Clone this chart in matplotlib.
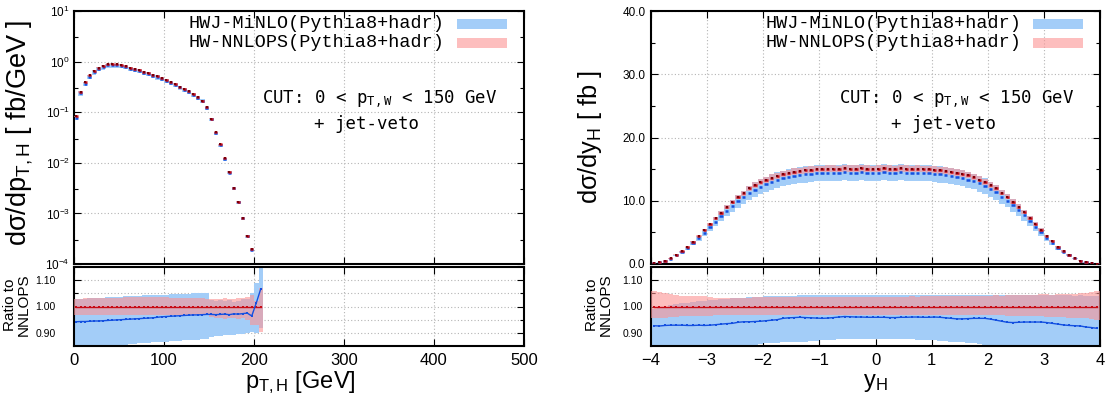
import numpy as np
import matplotlib
matplotlib.use('Agg')
import matplotlib.pyplot as plt
from matplotlib.patches import Rectangle
from matplotlib.ticker import MultipleLocator, FormatStrFormatter, FixedLocator, LogLocator, NullFormatter

plt.rcParams['font.family'] = ['Liberation Sans', 'DejaVu Sans']
plt.rcParams['mathtext.fontset'] = 'custom'
plt.rcParams['mathtext.rm'] = 'Liberation Sans'
plt.rcParams['mathtext.it'] = 'Liberation Sans:italic'
plt.rcParams['mathtext.bf'] = 'Liberation Sans:bold'
plt.rcParams['mathtext.sf'] = 'Liberation Sans'
plt.rcParams['mathtext.tt'] = 'DejaVu Sans Mono'

# ---------------- DATA ----------------
legend_labels = ["HWJ-MiNLO(Pythia8+hadr)", "HW-NNLOPS(Pythia8+hadr)"]
cut_text = [r"CUT: 0 < p$_{\mathtt{T,W}}$ < 150 GeV", "+ jet-veto"]

# pT_H histogram: 5 GeV bins from 0 to 210 GeV
pt_edges = np.arange(0, 211, 5)
pt_nnlops = [0.083, 0.25, 0.39, 0.535, 0.66, 0.76, 0.82, 0.885, 0.90, 0.885,
             0.86, 0.82, 0.76, 0.73, 0.68, 0.63, 0.60, 0.55, 0.51, 0.47,
             0.43, 0.39, 0.36, 0.32, 0.29, 0.26, 0.23, 0.20, 0.17, 0.124,
             0.075, 0.040, 0.023, 0.0122, 0.0066, 0.0032, 0.0017, 0.00082, 0.00036, 0.00020,
             0.00009, 0.00004]
pt_ratio_minlo = [0.942, 0.943, 0.943, 0.944, 0.945, 0.945, 0.946, 0.947, 0.948, 0.949,
                  0.950, 0.951, 0.952, 0.953, 0.954, 0.955, 0.956, 0.957, 0.959, 0.961,
                  0.962, 0.963, 0.964, 0.965, 0.966, 0.967, 0.968, 0.968, 0.969, 0.970,
                  0.970, 0.969, 0.970, 0.971, 0.969, 0.972, 0.971, 0.973, 0.975, 0.964,
                  1.013, 1.067]
pt_nnlops_up = [1.030, 1.030, 1.031, 1.031, 1.032, 1.032, 1.033, 1.033, 1.034, 1.034,
                1.034, 1.035, 1.035, 1.035, 1.036, 1.036, 1.036, 1.036, 1.035, 1.035,
                1.035, 1.034, 1.034, 1.033, 1.033, 1.032, 1.032, 1.031, 1.031, 1.030,
                1.030, 1.029, 1.030, 1.032, 1.030, 1.028, 1.031, 1.033, 1.036, 1.045,
                1.020, 1.070]
pt_nnlops_lo = [0.968, 0.968, 0.968, 0.967, 0.967, 0.967, 0.966, 0.966, 0.966, 0.966,
                0.966, 0.966, 0.966, 0.966, 0.966, 0.966, 0.966, 0.966, 0.966, 0.966,
                0.966, 0.966, 0.966, 0.966, 0.966, 0.966, 0.966, 0.966, 0.966, 0.966,
                0.960, 0.958, 0.955, 0.953, 0.957, 0.955, 0.953, 0.958, 0.950, 0.930,
                0.930, 0.905]
pt_minlo_up = [1.028, 1.028, 1.030, 1.031, 1.032, 1.033, 1.034, 1.035, 1.036, 1.036,
               1.037, 1.038, 1.039, 1.040, 1.041, 1.042, 1.043, 1.043, 1.044, 1.045,
               1.045, 1.046, 1.047, 1.047, 1.048, 1.049, 1.050, 1.050, 1.051, 1.052,
               1.025, 1.022, 1.026, 1.020, 1.024, 1.018, 1.022, 1.028, 1.030, 1.050,
               1.090, 1.170]
pt_minlo_lo = [0.830, 0.832, 0.835, 0.838, 0.840, 0.842, 0.845, 0.847, 0.849, 0.851,
               0.853, 0.855, 0.857, 0.859, 0.860, 0.862, 0.863, 0.864, 0.865, 0.866,
               0.867, 0.868, 0.869, 0.870, 0.871, 0.872, 0.873, 0.874, 0.875, 0.876,
               0.885, 0.887, 0.889, 0.890, 0.892, 0.893, 0.895, 0.897, 0.900, 0.905,
               0.900, 0.920]

# y_H histogram: 0.1 bins from -4 to 4
y_edges = np.linspace(-4.0, 4.0, 81)
y_nnlops = [0.10, 0.26, 0.50, 0.90, 1.45, 2.00, 2.70, 3.55, 4.40, 5.35,
            6.25, 7.20, 8.10, 9.00, 9.80, 10.60, 11.20, 11.95, 12.45, 12.90,
            13.30, 13.65, 13.95, 14.20, 14.40, 14.60, 14.70, 14.80, 14.90, 15.00,
            15.00, 15.05, 15.05, 15.00, 15.10, 15.05, 15.05, 15.10, 15.05, 15.00,
            15.05, 15.10, 15.05, 15.00, 15.10, 15.05, 15.00, 15.05, 15.00, 14.95,
            14.90, 14.80, 14.75, 14.60, 14.45, 14.25, 14.00, 13.70, 13.35, 12.95,
            12.50, 12.00, 11.25, 10.65, 9.85, 9.05, 8.15, 7.25, 6.30, 5.40,
            4.45, 3.60, 2.75, 2.05, 1.45, 0.95, 0.55, 0.28, 0.12, 0.03]
y_ratio_minlo = [0.927, 0.926, 0.928, 0.929, 0.929, 0.929, 0.928, 0.928, 0.929, 0.928,
                 0.929, 0.931, 0.933, 0.935, 0.936, 0.940, 0.942, 0.942, 0.943, 0.944,
                 0.946, 0.948, 0.950, 0.955, 0.957, 0.958, 0.959, 0.958, 0.957, 0.956,
                 0.955, 0.956, 0.958, 0.960, 0.962, 0.961, 0.960, 0.960, 0.959, 0.959,
                 0.959, 0.959, 0.958, 0.958, 0.959, 0.959, 0.960, 0.960, 0.959, 0.959,
                 0.960, 0.959, 0.957, 0.955, 0.953, 0.953, 0.954, 0.955, 0.955, 0.955,
                 0.952, 0.948, 0.944, 0.940, 0.939, 0.940, 0.941, 0.941, 0.941, 0.941,
                 0.939, 0.936, 0.933, 0.930, 0.928, 0.927, 0.926, 0.922, 0.920, 0.917]
y_nnlops_up = [1.058, 1.055, 1.050, 1.046, 1.042, 1.041, 1.041, 1.040, 1.040, 1.039,
               1.036, 1.034, 1.032, 1.032, 1.031, 1.032, 1.033, 1.034, 1.035, 1.036,
               1.036, 1.037, 1.037, 1.036, 1.036, 1.037, 1.037, 1.036, 1.036, 1.037,
               1.036, 1.037, 1.036, 1.036, 1.037, 1.037, 1.036, 1.037, 1.036, 1.036,
               1.037, 1.036, 1.037, 1.037, 1.036, 1.037, 1.038, 1.037, 1.038, 1.038,
               1.038, 1.039, 1.038, 1.039, 1.040, 1.039, 1.040, 1.040, 1.041, 1.040,
               1.041, 1.042, 1.041, 1.043, 1.042, 1.044, 1.043, 1.045, 1.044, 1.046,
               1.046, 1.045, 1.047, 1.048, 1.046, 1.049, 1.050, 1.052, 1.055, 1.058]
y_nnlops_lo = [0.955, 0.956, 0.958, 0.960, 0.962, 0.963, 0.964, 0.965, 0.965, 0.965,
               0.965, 0.966, 0.966, 0.966, 0.966, 0.966, 0.966, 0.966, 0.966, 0.966,
               0.966, 0.966, 0.966, 0.966, 0.966, 0.966, 0.966, 0.966, 0.966, 0.966,
               0.966, 0.966, 0.966, 0.966, 0.966, 0.966, 0.966, 0.966, 0.966, 0.966,
               0.966, 0.966, 0.966, 0.966, 0.966, 0.966, 0.966, 0.966, 0.966, 0.966,
               0.966, 0.966, 0.966, 0.966, 0.966, 0.966, 0.966, 0.966, 0.966, 0.966,
               0.966, 0.966, 0.966, 0.965, 0.965, 0.965, 0.964, 0.964, 0.963, 0.963,
               0.962, 0.961, 0.960, 0.959, 0.958, 0.957, 0.956, 0.955, 0.952, 0.950]
y_minlo_up = [0.990, 0.995, 1.000, 1.005, 1.010, 1.012, 1.015, 1.018, 1.020, 1.022,
              1.024, 1.026, 1.028, 1.030, 1.031, 1.032, 1.034, 1.035, 1.036, 1.037,
              1.038, 1.039, 1.040, 1.040, 1.041, 1.041, 1.042, 1.042, 1.042, 1.042,
              1.043, 1.042, 1.043, 1.042, 1.043, 1.043, 1.042, 1.043, 1.042, 1.043,
              1.043, 1.042, 1.043, 1.042, 1.043, 1.043, 1.042, 1.043, 1.042, 1.043,
              1.043, 1.043, 1.044, 1.043, 1.044, 1.043, 1.044, 1.044, 1.043, 1.044,
              1.043, 1.044, 1.044, 1.043, 1.044, 1.044, 1.043, 1.044, 1.043, 1.044,
              1.043, 1.044, 1.043, 1.042, 1.043, 1.041, 1.042, 1.040, 1.041, 1.040]
y_minlo_lo = [0.830, 0.830, 0.831, 0.831, 0.832, 0.832, 0.833, 0.833, 0.834, 0.834,
              0.835, 0.836, 0.837, 0.838, 0.840, 0.842, 0.845, 0.848, 0.852, 0.856,
              0.860, 0.861, 0.862, 0.864, 0.865, 0.866, 0.866, 0.867, 0.868, 0.870,
              0.872, 0.873, 0.874, 0.875, 0.876, 0.876, 0.876, 0.877, 0.876, 0.876,
              0.876, 0.876, 0.877, 0.876, 0.876, 0.875, 0.875, 0.874, 0.874, 0.873,
              0.872, 0.870, 0.868, 0.866, 0.865, 0.864, 0.862, 0.860, 0.857, 0.854,
              0.850, 0.846, 0.843, 0.840, 0.838, 0.836, 0.835, 0.834, 0.833, 0.832,
              0.832, 0.831, 0.831, 0.830, 0.830, 0.830, 0.829, 0.829, 0.828, 0.828]

# ---------------- STYLE ----------------
BLUE_BAND = '#a3cdf8'
RED_BAND = (252/255, 147/255, 147/255)
RED_ALPHA = 0.6
BLUE_LINE = '#1450e0'
RED_LINE = '#c80a14'
GRID_KW = dict(color='#b4b4b4', linestyle=(0, (1, 2)), linewidth=0.8)
W, H = 1113, 401

fig = plt.figure(figsize=(W / 100, H / 100), dpi=100)


def px_axes(x0, x1, ytop, ybot):
    return fig.add_axes([x0 / W, 1 - ybot / H, (x1 - x0) / W, (ybot - ytop) / H])


def style_frame(ax):
    for s in ax.spines.values():
        s.set_linewidth(1.5)
    ax.tick_params(which='both', direction='in', top=True, right=True)
    ax.tick_params(which='major', length=5, width=0.8)
    ax.tick_params(which='minor', length=3, width=0.8)
    ax.set_axisbelow(True)


def draw_main(ax, edges, red, ratio_b, r_up, r_lo, b_up, b_lo):
    edges = np.asarray(edges, float)
    c = 0.5 * (edges[1:] + edges[:-1])
    w = edges[1:] - edges[:-1]
    red = np.asarray(red)
    blue = red * np.asarray(ratio_b)
    ax.bar(c, red * (np.asarray(b_up) - np.asarray(b_lo)), bottom=red * np.asarray(b_lo),
           width=w, color=BLUE_BAND, linewidth=0, zorder=2)
    ax.bar(c, red * (np.asarray(r_up) - np.asarray(r_lo)), bottom=red * np.asarray(r_lo),
           width=w, color=RED_BAND, alpha=RED_ALPHA, linewidth=0, zorder=3)
    ax.hlines(blue, c - 0.3 * w, c + 0.3 * w, color=BLUE_LINE, lw=1.8, zorder=4)
    ax.hlines(red, c - 0.3 * w, c + 0.3 * w, color=RED_LINE, lw=1.8, zorder=5)
    ax.plot(c, red, 's', ms=1.6, color='#7a0008', zorder=6, mew=0)


def draw_ratio(ax, edges, red, ratio_b, r_up, r_lo, b_up, b_lo):
    edges = np.asarray(edges, float)
    c = 0.5 * (edges[1:] + edges[:-1])
    w = edges[1:] - edges[:-1]
    red = np.asarray(red)
    ax.bar(c, np.asarray(b_up) - np.asarray(b_lo), bottom=b_lo, width=w,
           color=BLUE_BAND, linewidth=0, zorder=2)
    ax.bar(c, np.asarray(r_up) - np.asarray(r_lo), bottom=r_lo, width=w,
           color=RED_BAND, alpha=RED_ALPHA, linewidth=0, zorder=3)
    ax.plot(c, red / red, '-', color=RED_LINE, lw=1.0, zorder=4,
            marker='s', ms=2.0, mew=0)
    ax.plot(c, ratio_b, '-', color=BLUE_LINE, lw=1.0, zorder=5,
            marker='s', ms=2.0, mew=0)
    ax.set_ylim(0.85, 1.15)
    ax.yaxis.set_major_locator(FixedLocator([0.90, 1.00, 1.10]))
    ax.yaxis.set_major_formatter(FormatStrFormatter('%.2f'))
    ax.yaxis.set_minor_locator(FixedLocator([0.95, 1.05]))
    ax.grid(True, which='both', axis='y', **GRID_KW)
    ax.grid(True, which='major', axis='x', **GRID_KW)
    ax.tick_params(axis='x', labelsize=12, pad=5)
    ax.tick_params(axis='y', labelsize=7.5)


def legend_and_cut(ax):
    rows = [0.949, 0.874]
    cols = [BLUE_BAND, RED_BAND]
    alphas = [1.0, RED_ALPHA]
    for lab, yy, col, al in zip(legend_labels, rows, cols, alphas):
        ax.text(0.824, yy, lab, transform=ax.transAxes, ha='right', va='center',
                fontsize=13.3, family='Liberation Mono', zorder=10)
        ax.add_patch(Rectangle((0.851, yy - 0.02), 0.111, 0.04, transform=ax.transAxes,
                               facecolor=col, alpha=al, edgecolor='none', zorder=10))
    ax.text(0.68, 0.648, cut_text[0], transform=ax.transAxes, ha='center', va='center',
            fontsize=12.5, family='DejaVu Sans Mono', zorder=10)
    ax.text(0.651, 0.553, cut_text[1], transform=ax.transAxes, ha='center', va='center',
            fontsize=12.5, family='DejaVu Sans Mono', zorder=10)


# ---------------- LEFT: pT_H ----------------
axL = px_axes(74, 524, 11, 264)
axLr = px_axes(74, 524, 267, 346)
for a in (axL, axLr):
    style_frame(a)

draw_main(axL, pt_edges, pt_nnlops, pt_ratio_minlo, pt_nnlops_up, pt_nnlops_lo,
          pt_minlo_up, pt_minlo_lo)
axL.set_yscale('log')
axL.set_ylim(1e-4, 10)
axL.set_xlim(0, 500)
axL.yaxis.set_major_locator(LogLocator(base=10, numticks=10))
axL.yaxis.set_minor_locator(LogLocator(base=10, subs=(3.0,), numticks=10))
axL.yaxis.set_minor_formatter(NullFormatter())
axL.xaxis.set_major_locator(MultipleLocator(100))
axL.tick_params(axis='x', labelbottom=False)
axL.tick_params(axis='y', labelsize=8.5, pad=3)
axL.grid(True, which='major', **GRID_KW)
legend_and_cut(axL)

draw_ratio(axLr, pt_edges, pt_nnlops, pt_ratio_minlo, pt_nnlops_up, pt_nnlops_lo,
           pt_minlo_up, pt_minlo_lo)
axLr.set_xlim(0, 500)
axLr.xaxis.set_major_locator(MultipleLocator(100))
axLr.tick_params(axis='y', pad=13)

# ---------------- RIGHT: y_H ----------------
axR = px_axes(651, 1100, 11, 264)
axRr = px_axes(651, 1100, 267, 346)
for a in (axR, axRr):
    style_frame(a)

draw_main(axR, y_edges, y_nnlops, y_ratio_minlo, y_nnlops_up, y_nnlops_lo,
          y_minlo_up, y_minlo_lo)
axR.set_ylim(0, 40)
axR.set_xlim(-4, 4)
axR.yaxis.set_major_locator(MultipleLocator(10))
axR.yaxis.set_minor_locator(MultipleLocator(5))
axR.yaxis.set_major_formatter(FormatStrFormatter('%.1f'))
axR.xaxis.set_major_locator(MultipleLocator(1))
axR.tick_params(axis='x', labelbottom=False)
axR.tick_params(axis='y', labelsize=8.5, pad=4)
axR.grid(True, which='major', **GRID_KW)
legend_and_cut(axR)

draw_ratio(axRr, y_edges, y_nnlops, y_ratio_minlo, y_nnlops_up, y_nnlops_lo,
           y_minlo_up, y_minlo_lo)
axRr.set_xlim(-4, 4)
axRr.xaxis.set_major_locator(MultipleLocator(1))
axRr.tick_params(axis='y', pad=6)

# ---------------- LABELS ----------------
fig.text(20 / W, 1 - 133 / H, r"dσ/dp$_{\mathrm{T,H}}$ [ fb/GeV ]", rotation=90,
         ha='center', va='center', fontsize=19.5)
fig.text(590 / W, 1 - 137 / H, r"dσ/dy$_{\mathrm{H}}$ [ fb ]", rotation=90,
         ha='center', va='center', fontsize=18.3)
fig.text(17 / W, 1 - 305 / H, "Ratio to\nNNLOPS", rotation=90, ha='center', va='center',
         fontsize=11, linespacing=0.95)
fig.text(599 / W, 1 - 305 / H, "Ratio to\nNNLOPS", rotation=90, ha='center', va='center',
         fontsize=11, linespacing=0.95)
fig.text(300 / W, 1 - 383 / H, r"p$_{\mathrm{T,H}}$ [GeV]", ha='center', va='center',
         fontsize=17)
fig.text(875 / W, 1 - 383 / H, r"y$_{\mathrm{H}}$", ha='center', va='center', fontsize=17)

fig.savefig('out.png', dpi=100)
